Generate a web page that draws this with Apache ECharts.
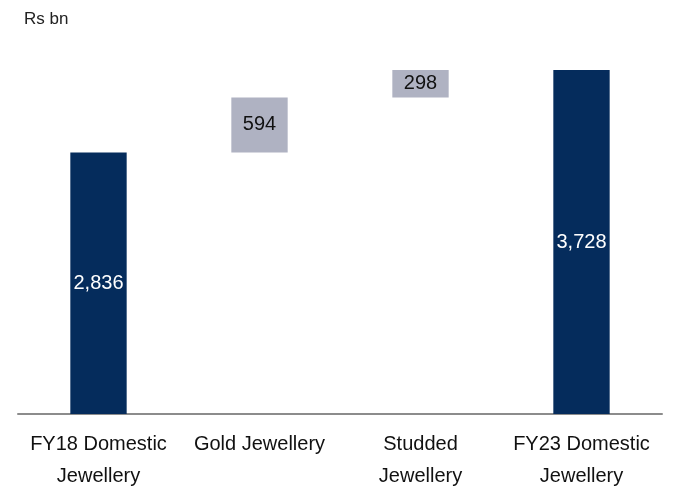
<!DOCTYPE html>
<html>
<head>
<meta charset="utf-8">
<script src="https://cdn.jsdelivr.net/npm/echarts@6/dist/echarts.min.js"></script>
<style>
  html, body { margin: 0; padding: 0; background: #fff; }
  #chart { width: 677px; height: 489px; }
</style>
</head>
<body>
<div id="chart"></div>
<script>
// Domestic jewellery market bridge, FY18 to FY23 (Rs bn)
const categories = ['FY18 Domestic\nJewellery', 'Gold Jewellery', 'Studded\nJewellery', 'FY23 Domestic\nJewellery'];
const values = [2836, 594, 298, 3728];
const isTotal = [true, false, false, true];

const TOTAL_COLOR = '#052C5C';
const STEP_COLOR = '#AFB2C2';
const FONT = 'Liberation Sans, Arial, sans-serif';

// invisible base that lifts each increment to the running total
const base = [];
let running = 0;
values.forEach((v, i) => {
  if (isTotal[i]) { base.push(0); running = v; }
  else { base.push(running); running += v; }
});

const chart = echarts.init(document.getElementById('chart'));
chart.setOption({
  animation: false,
  graphic: [{
    type: 'text', left: 24, top: 11,
    style: { text: 'Rs bn', font: '17px ' + FONT, fill: '#222' }
  }],
  grid: { left: 18, right: 15, top: 45, bottom: 75, containLabel: false, outerBoundsMode: 'none' },
  xAxis: {
    type: 'category',
    data: categories,
    axisLine: { lineStyle: { color: '#8C8C8C', width: 2 } },
    axisTick: { show: false },
    axisLabel: {
      interval: 0, margin: 14, color: '#111',
      fontFamily: FONT, fontSize: 20, lineHeight: 32,
      verticalAlign: 'top'
    }
  },
  yAxis: {
    type: 'value', min: 0, max: 4000,
    show: false, splitLine: { show: false }
  },
  series: [
    {
      type: 'bar', stack: 'w', data: base, barWidth: '35%',
      itemStyle: { color: 'transparent' }, silent: true
    },
    {
      type: 'bar', stack: 'w', barWidth: '35%',
      data: values.map((v, i) => ({
        value: v,
        itemStyle: { color: isTotal[i] ? TOTAL_COLOR : STEP_COLOR },
        label: { color: isTotal[i] ? '#fff' : '#111' }
      })),
      label: {
        show: true, position: 'inside',
        fontFamily: FONT, fontSize: 20,
        formatter: p => p.value.toLocaleString('en-US')
      }
    }
  ]
});
</script>
</body>
</html>
